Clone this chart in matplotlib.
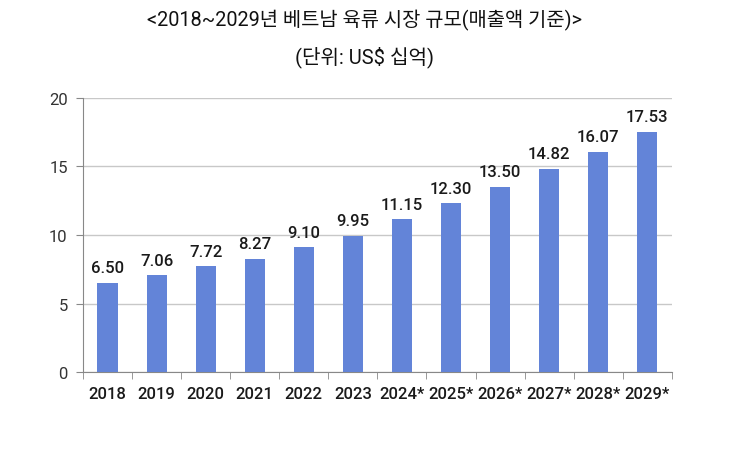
import numpy as np
import matplotlib.pyplot as plt

plt.rcParams['font.family'] = ['Roboto', 'Noto Sans CJK KR', 'DejaVu Sans']

years = ['2018', '2019', '2020', '2021', '2022', '2023',
         '2024*', '2025*', '2026*', '2027*', '2028*', '2029*']
market_size = [6.50, 7.06, 7.72, 8.27, 9.10, 9.95,
               11.15, 12.30, 13.50, 14.82, 16.07, 17.53]

title = '<2018~2029년 베트남 육류 시장 규모(매출액 기준)>'
subtitle = '(단위: US$ 십억)'

fig = plt.figure(figsize=(7.51, 4.6), dpi=100)
ax = fig.add_axes([0.1105, 0.189, 0.784, 0.596])

x = np.arange(len(years))
ax.bar(x, market_size, width=0.41, color='#6384d8', zorder=3)

for xi, v in zip(x, market_size):
    ax.text(xi, v + 0.55, f'{v:.2f}', ha='center', va='bottom',
            fontsize=12, fontweight='medium', color='#1a1a1a')

ax.set_xlim(-0.5, len(years) - 0.5)
ax.set_ylim(0, 20)
ax.set_yticks([0, 5, 10, 15, 20])
ax.yaxis.grid(True, color='#c8c8c8', linewidth=1, zorder=0)

ax.set_xticks(x)
ax.set_xticklabels(years, fontsize=12, fontweight='medium', color='#1a1a1a')
ax.set_xticks(np.arange(-0.5, len(years)), minor=True)
ax.tick_params(axis='x', which='major', length=0, pad=10)
ax.tick_params(axis='x', which='minor', length=5, color='#888888')
ax.tick_params(axis='y', length=5, color='#888888', labelsize=12,
               labelcolor='#333333', pad=6)

for side in ['top', 'right']:
    ax.spines[side].set_visible(False)
ax.spines['left'].set_color('#888888')
ax.spines['bottom'].set_color('#888888')

fig.text(0.485, 0.955, title, ha='center', va='center', fontsize=14.3, color='#111111')
fig.text(0.485, 0.875, subtitle, ha='center', va='center', fontsize=14.5, color='#111111')

fig.savefig('out.png', dpi=100)
